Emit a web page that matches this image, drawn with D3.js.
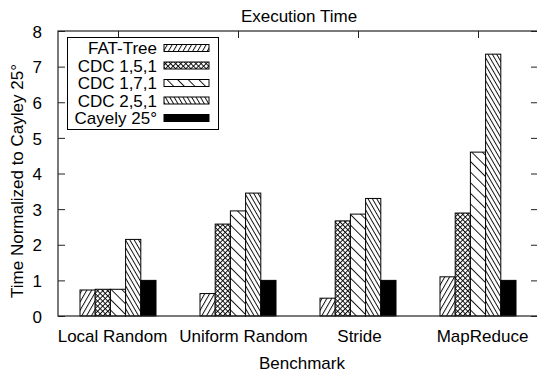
<!DOCTYPE html>
<html>
<head>
<meta charset="utf-8">
<script src="https://cdn.jsdelivr.net/npm/d3@7"></script>
<style>
  body { margin: 0; background: #fff; }
  text { font-family: "Liberation Sans", Arial, Helvetica, sans-serif; fill: #000; }
</style>
</head>
<body>
<div id="chart"></div>
<script>
// chart data
var benchmarks = ["Local Random", "Uniform Random", "Stride", "MapReduce"];
var seriesNames = ["FAT-Tree", "CDC 1,5,1", "CDC 1,7,1", "CDC 2,5,1", "Cayely 25\u00B0"];
var fatTree = [0.73, 0.63, 0.50, 1.10];
var cdc151  = [0.75, 2.58, 2.67, 2.89];
var cdc171  = [0.75, 2.95, 2.86, 4.60];
var cdc251  = [2.15, 3.45, 3.30, 7.35];
var cayley  = [1.00, 1.00, 1.00, 1.00];
var yTicks  = [0, 1, 2, 3, 4, 5, 6, 7, 8];

var seriesValues = [fatTree, cdc151, cdc171, cdc251, cayley];
var fills = ["url(#pFat)", "url(#pCross)", "url(#pSparse)", "url(#pSteep)", "#000"];
var labelNudge = [-6, 5, 1, 4];            // gnuplot puts the x labels a bit off-centre

var W = 537, H = 374;
var pLeft = 58, pRight = 538, pTop = 31, pBottom = 316;   // "top" is taken by window.top

var svg = d3.select("#chart").append("svg")
    .attr("width", W)
    .attr("height", H);

// hatch patterns
var defs = svg.append("defs");
function hatch(id, size, angle, cross) {
    var p = defs.append("pattern")
        .attr("id", id)
        .attr("patternUnits", "userSpaceOnUse")
        .attr("width", size)
        .attr("height", size)
        .attr("patternTransform", "rotate(" + angle + ")");
    p.append("rect").attr("width", size).attr("height", size).attr("fill", "#fff");
    p.append("line").attr("x1", 0.5).attr("y1", 0).attr("x2", 0.5).attr("y2", size)
        .attr("stroke", "#000").attr("stroke-width", 0.9);
    if (cross) {
        p.append("line").attr("x1", 0).attr("y1", 0.5).attr("x2", size).attr("y2", 0.5)
            .attr("stroke", "#000").attr("stroke-width", 0.9);
    }
}
hatch("pFat", 4.2, 30, false);
hatch("pCross", 3.6, 45, true);
hatch("pSparse", 7.5, -45, false);
hatch("pSteep", 3.8, -30, false);

var x = d3.scaleLinear().domain([-0.5, 3.5]).range([pLeft, pRight]);
var y = d3.scaleLinear().domain([0, 8]).range([pBottom, pTop]);
var inner = d3.scaleBand().domain(d3.range(seriesNames.length)).range([-38, 38]).padding(0);

// ticks (inward, mirrored)
var axisCol = "#222";
svg.append("g")
    .attr("transform", "translate(" + pLeft + ",0)")
    .call(d3.axisLeft(y).tickValues(yTicks).tickSizeInner(-7).tickSizeOuter(0).tickPadding(16))
    .call(function(g) {
        g.select(".domain").remove();
        g.selectAll("line").attr("stroke", axisCol);
        g.selectAll("text").attr("font-size", 17).attr("font-family", "Liberation Sans, Arial, sans-serif").attr("dy", "0.36em");
    });
svg.append("g")
    .attr("transform", "translate(" + pRight + ",0)")
    .call(d3.axisRight(y).tickValues(yTicks).tickSizeInner(-7).tickSizeOuter(0).tickFormat(""))
    .call(function(g) {
        g.select(".domain").remove();
        g.selectAll("line").attr("stroke", axisCol);
    });
svg.append("g")
    .attr("transform", "translate(0," + pTop + ")")
    .call(d3.axisTop(x).tickValues(d3.range(benchmarks.length)).tickSizeInner(-7).tickSizeOuter(0).tickFormat(""))
    .call(function(g) {
        g.select(".domain").remove();
        g.selectAll("line").attr("stroke", axisCol);
    });
svg.append("g")
    .attr("transform", "translate(0," + pBottom + ")")
    .call(d3.axisBottom(x).tickValues(d3.range(benchmarks.length))
        .tickFormat(function(d) { return benchmarks[d]; })
        .tickSizeInner(-7).tickSizeOuter(0).tickPadding(14))
    .call(function(g) {
        g.select(".domain").remove();
        g.selectAll("line").attr("stroke", axisCol);
        g.selectAll("text").attr("font-size", 17).attr("font-family", "Liberation Sans, Arial, sans-serif")
            .attr("dx", function(d) { return labelNudge[d]; });
    });

// bars
var groups = svg.append("g").selectAll("g")
    .data(benchmarks)
    .join("g")
    .attr("transform", function(d, i) { return "translate(" + x(i) + ",0)"; });

groups.selectAll("rect")
    .data(function(d, i) { return seriesValues.map(function(s, k) { return { k: k, v: s[i] }; }); })
    .join("rect")
    .attr("x", function(d) { return inner(d.k); })
    .attr("width", inner.bandwidth())
    .attr("y", function(d) { return y(d.v); })
    .attr("height", function(d) { return y(0) - y(d.v); })
    .attr("fill", function(d) { return fills[d.k]; })
    .attr("stroke", "#000")
    .attr("stroke-width", 1);

// frame
svg.append("rect")
    .attr("x", pLeft).attr("y", pTop)
    .attr("width", pRight - pLeft).attr("height", pBottom - pTop)
    .attr("fill", "none").attr("stroke", axisCol).attr("stroke-width", 1.2);

// legend
var legend = svg.append("g");
legend.append("rect")
    .attr("x", 67.5).attr("y", 37.5).attr("width", 151).attr("height", 92)
    .attr("fill", "#fff").attr("stroke", "#000").attr("stroke-width", 1);
var rowY = d3.scaleLinear().domain([0, 4]).range([48, 118]);
var items = legend.selectAll("g.item")
    .data(seriesNames)
    .join("g")
    .attr("class", "item")
    .attr("transform", function(d, i) { return "translate(0," + rowY(i) + ")"; });
items.append("text")
    .attr("x", 157).attr("dy", "0.36em")
    .attr("text-anchor", "end")
    .attr("font-size", 17)
    .text(function(d) { return d; });
items.append("rect")
    .attr("x", 164).attr("y", -3.5)
    .attr("width", 45).attr("height", 7)
    .attr("fill", function(d, i) { return fills[i]; })
    .attr("stroke", "#000").attr("stroke-width", 1);

// titles
svg.append("text")
    .attr("x", 299).attr("y", 22)
    .attr("text-anchor", "middle").attr("font-size", 17)
    .text("Execution Time");
svg.append("text")
    .attr("x", 302).attr("y", 369)
    .attr("text-anchor", "middle").attr("font-size", 17)
    .text("Benchmark");
svg.append("text")
    .attr("transform", "translate(23,181) rotate(-90)")
    .attr("text-anchor", "middle").attr("font-size", 17)
    .text("Time Normalized to Cayley 25\u00B0");
</script>
</body>
</html>
